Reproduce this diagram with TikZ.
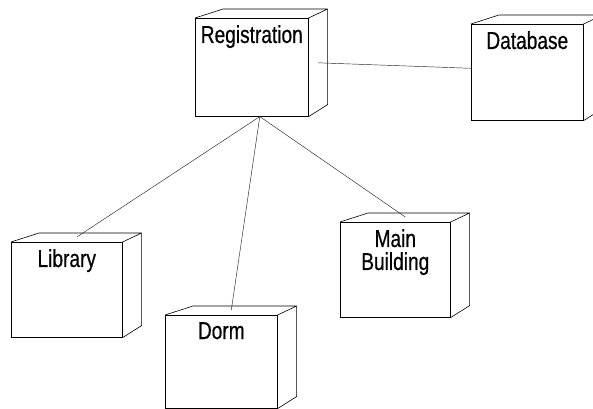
\documentclass[tikz,border=0pt]{standalone}
\usepackage{fontspec}
\setmainfont{Liberation Sans}[FakeStretch=0.78, FakeBold=0.5]
\usetikzlibrary{calc}
\tikzset{
    face/.style={draw, line width=0.6pt, inner sep=0pt, anchor=north west},
    title/.style={inner sep=0pt, anchor=north, align=center, font=\fontsize{24.5}{23}\selectfont},
    edge3d/.style={line width=0.6pt, line join=round},
    link/.style={black!85, line width=0.45pt}
}
% box drawn as a UML node: name, top left corner, width, height, text
\newcommand{\umlnode}[5]{
    \node[face, minimum width=#3, minimum height=#4] (#1) at (#2) {};
    \node[title] (#1-title) at ([yshift=-7pt]#1.north) {#5};
    \draw[edge3d] (#1.north west) -- ++(28,-9) -- ($(#1.north east)+(19,-9)$) -- (#1.north east);
    \draw[edge3d] ($(#1.north east)+(19,-9)$) -- ($(#1.south east)+(19,-12)$) -- (#1.south east);
    \coordinate (#1-top) at ($(#1.north)+(10,-5)$);
    \coordinate (#1-side) at ($(#1.east)+(9.5,-4.5)$);
}

\begin{document}
\begin{tikzpicture}[x=1pt, y=-1pt]
    \useasboundingbox (0,0) rectangle (593,408);
    \fill[white] (0,0) rectangle (593,408);
    \clip (0,0) rectangle (593,408);
    \umlnode{reg}{195,18}{113pt}{98pt}{Registration}
    \umlnode{db}{471,24}{112pt}{96pt}{Database}
    \umlnode{lib}{11,242}{111pt}{95pt}{Library}
    \umlnode{main}{340,222}{110pt}{95pt}{Main\\Building}
    \umlnode{dorm}{165,315}{112pt}{93pt}{Dorm}
    % links
    \coordinate (hub) at ([xshift=8pt]reg.south);
    \draw[link] (reg-side) -- ([yshift=4pt]db.west);
    \draw[link] (hub) -- (lib-top);
    \draw[link] (hub) -- (dorm-top);
    \draw[link] (hub) -- (main-top);
\end{tikzpicture}
\end{document}
